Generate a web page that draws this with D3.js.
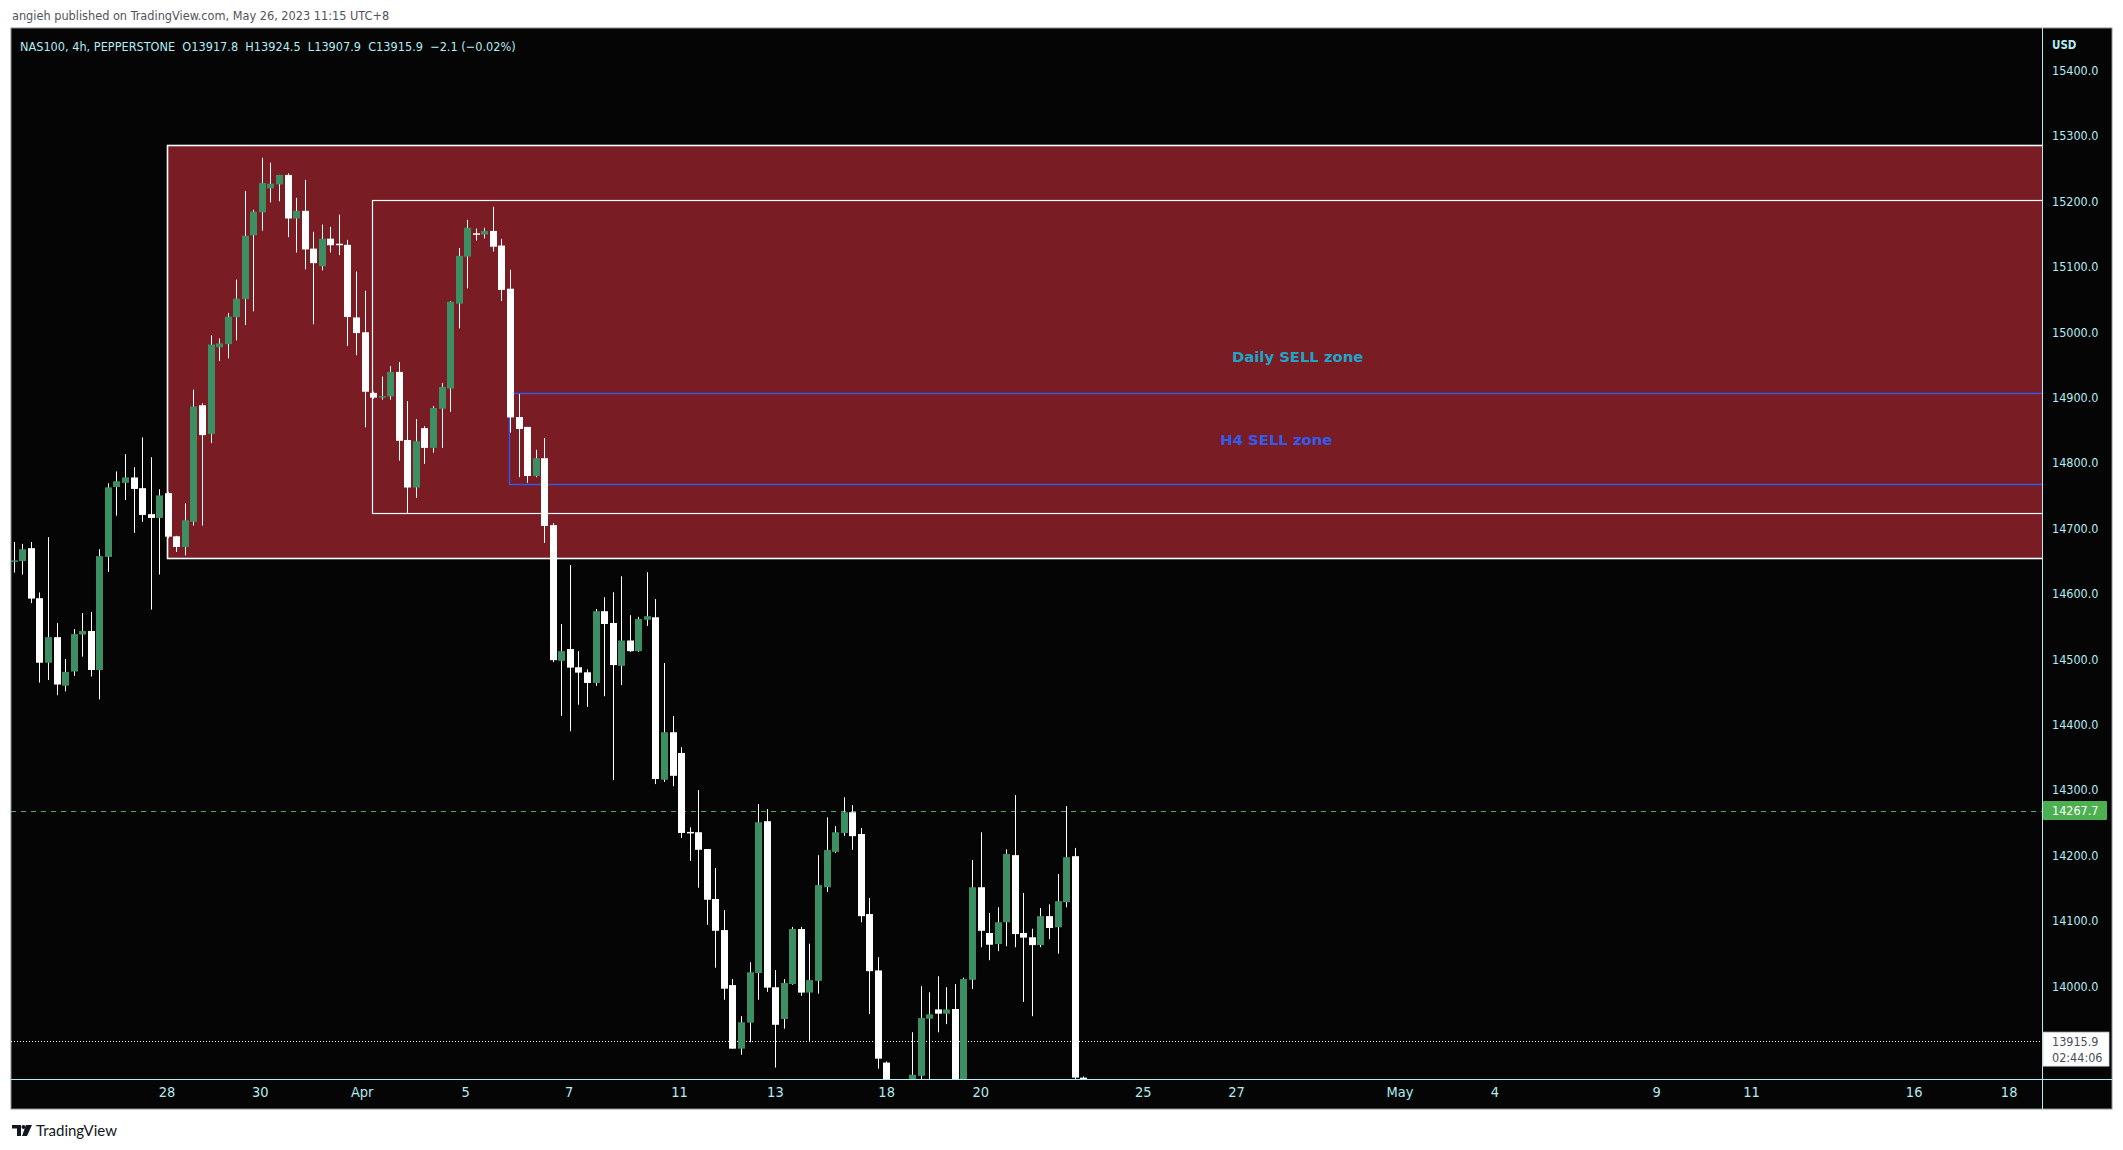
<!DOCTYPE html>
<html><head><meta charset="utf-8">
<script src="https://cdn.jsdelivr.net/npm/d3@7"></script>
<style>
html,body{margin:0;padding:0;background:#ffffff;}
svg{display:block;}
</style></head>
<body>
<svg id="chart" width="2123" height="1150"></svg>
<script>
// ---------------- DATA ----------------
// 4h candles, NAS100 (index = bar number)
const opens = [14648.7,14649.9,14669.7,14593.2,14494.5,14533.6,14459.5,14481.1,14537.7,14543.0,
14483.4,14656.3,14763.2,14769.6,14777.8,14761.4,14721.7,14715.9,14753.8,14687.8,
14671.5,14710.0,14888.2,14844.4,14977.0,14981.6,15023.1,15050.6,15148.1,15183.1,
15219.9,15225.8,15240.4,15173.8,15185.5,15127.7,15100.8,15142.9,15135.2,15133.5,
15022.5,14999.8,14907.1,14899.9,14901.7,14939.2,14835.1,14762.4,14853.2,14823.0,
14882.9,14913.8,15043.4,15115.4,15151.1,15149.3,15154.8,15132.4,15066.4,14870.2,
14855.1,14780.0,14807.2,14704.9,14497.4,14515.4,14487.6,14479.9,14463.6,14573.3,
14555.3,14489.8,14528.5,14512.2,14560.2,14564.0,14315.6,14388.2,14356.5,14235.8,
14235.3,14209.6,14133.2,14085.7,14001.6,13904.4,13944.2,14020.1,14252.2,13998.3,
13949.7,14003.2,14087.3,13990.1,14008.1,14151.2,14205.3,14234.2,14265.9,14232.6,
14110.2,14024.0,13883.1,13820.0,13790.0,13805.0,13862.8,13950.2,13964.4,13957.9,
13965.0,13835.0,14009.7,14151.2,14081.3,14064.4,14097.7,14200.3,14081.3,14074.7,
14062.7,14107.0,14090.0,14128.3,14198.7,13860.1];
const highs = [14679.1,14676.2,14679.1,14602.0,14686.7,14555.2,14500.3,14545.9,14570.4,14572.2,
14668.0,14769.0,14787.1,14813.4,14793.5,14839.1,14808.7,14759.7,14756.0,14688.5,
14738.1,14912.1,14891.1,14995.1,14990.4,15029.5,15080.3,15215.9,15187.2,15266.7,
15259.1,15240.4,15242.7,15205.3,15232.8,15153.4,15164.5,15161.0,15179.6,15141.1,
15092.6,15063.3,14909.0,14932.0,14948.3,14954.4,14894.4,14867.2,14856.3,14887.1,
14922.3,15047.6,15128.7,15171.7,15158.4,15159.6,15191.7,15142.7,15095.4,14905.3,
14855.1,14820.0,14838.1,14707.9,14553.7,14643.8,14512.2,14484.3,14576.6,14594.6,
14602.3,14626.8,14567.3,14564.6,14632.9,14591.9,14494.1,14412.8,14365.3,14242.9,
14299.7,14209.6,14180.7,14116.2,14010.8,13954.1,14036.5,14278.4,14270.8,14024.5,
14010.8,14090.6,14090.6,14064.9,14200.3,14258.2,14244.6,14288.8,14276.8,14241.8,
14134.8,14044.2,13885.0,13845.0,13835.0,13929.5,14000.0,13990.6,14015.2,13998.3,
14003.2,14013.0,14192.7,14235.3,14111.9,14120.6,14209.1,14292.1,14142.5,14087.8,
14119.5,14125.0,14171.4,14275.2,14211.3,13862.0];
const lows = [14632.3,14629.4,14585.6,14464.1,14468.2,14444.9,14450.7,14474.6,14503.8,14473.5,
14438.4,14633.5,14719.4,14743.3,14693.1,14710.0,14575.7,14629.4,14685.0,14663.9,
14658.6,14704.2,14704.2,14830.4,14955.9,14960.0,14987.5,15010.8,15031.9,15155.1,
15198.3,15200.1,15145.2,15121.8,15096.1,15012.0,15094.4,15121.8,15117.7,14978.7,
14964.7,14854.5,14898.0,14896.8,14896.8,14803.6,14723.0,14746.7,14798.7,14815.7,
14823.0,14878.1,15005.8,15067.0,15140.2,15143.3,15123.3,15047.6,14846.6,14778.2,
14769.7,14778.2,14677.6,14495.4,14413.3,14389.8,14430.2,14427.0,14459.2,14443.4,
14315.0,14460.3,14511.1,14511.1,14550.9,14309.0,14312.3,14305.7,14226.5,14191.6,
14150.6,14093.8,14028.3,13979.2,13904.4,13895.1,13914.2,13979.2,13991.2,13875.4,
13934.9,14002.1,13985.2,13916.4,13988.5,14144.1,14203.6,14229.8,14208.5,14097.7,
13957.3,13873.8,13800.0,13770.0,13760.0,13790.0,13845.0,13850.0,13929.5,13942.0,
13815.0,13820.0,13995.5,14059.5,14039.8,14053.4,14061.1,14059.5,13975.9,13954.1,
14059.5,14072.0,14049.6,14120.6,13845.0,13790.0];
const closes = [14651.0,14668.0,14592.6,14494.5,14533.6,14461.2,14480.5,14538.3,14543.0,14483.4,
14657.5,14762.6,14772.0,14777.8,14760.3,14720.5,14715.9,14750.3,14687.3,14671.5,
14712.4,14886.4,14842.6,14981.1,14982.8,15023.7,15051.1,15147.5,15184.3,15228.1,
15227.0,15240.4,15173.8,15185.5,15126.5,15105.5,15142.9,15132.9,15133.5,15023.1,
14998.6,14908.9,14899.9,14902.3,14939.2,14833.9,14762.4,14833.3,14823.0,14884.1,
14916.2,15046.4,15116.6,15159.6,15149.9,15154.8,15130.6,15064.6,14869.6,14852.0,
14780.0,14807.2,14703.7,14498.4,14512.2,14487.0,14479.4,14463.6,14573.3,14553.7,
14490.9,14528.5,14512.2,14561.3,14565.7,14316.7,14388.2,14321.6,14234.2,14234.7,
14208.5,14132.1,14084.6,13996.1,13904.4,13944.8,14021.2,14250.6,13997.7,13940.9,
14004.8,14087.3,13990.1,14009.2,14154.5,14208.0,14235.3,14265.9,14229.3,14107.0,
14022.9,13889.1,13820.0,13790.0,13805.0,13864.5,13951.3,13956.8,13957.9,13964.4,
13830.0,14010.8,14151.2,14084.6,14063.3,14097.7,14202.0,14079.6,14074.2,14062.7,
14107.0,14088.9,14129.9,14197.1,13860.1,13820.0];

const priceTicks = [14000,14100,14200,14300,14400,14500,14600,14700,14800,14900,15000,15100,15200,15300,15400];
const dateTickIndex = [17.8,28.7,40.6,52.7,64.8,77.7,88.9,101.9,112.9,131.9,142.8,161.9,173.0,191.9,203.0,222.0,233.1];
const dateTickLabels = ["28","30","Apr","5","7","11","13","18","20","25","27","May","4","9","11","16","18"];

// zones drawn by the author: [start bar index, top price, bottom price]
const zoneStart  = [17.85, 41.85, 57.85];
const zoneTop    = [15286, 15202, 14907];
const zoneBottom = [14654, 14723, 14768];
const zoneKind   = ["daily","daily-inner","h4"];

const zoneLabels      = ["Daily SELL zone","H4 SELL zone"];
const zoneLabelIndex  = [150.0, 147.5];
const zoneLabelPrice  = [14962, 14836];

const levelPrice = 14267.7;   // horizontal level (green dashed)
const lastPrice  = 13915.9;   // current price (dotted)
const countdown  = "02:44:06";

const headerLine = "NAS100, 4h, PEPPERSTONE  O13917.8  H13924.5  L13907.9  C13915.9  \u22122.1 (\u22120.02%)";
const publishLine = "angieh published on TradingView.com, May 26, 2023 11:15 UTC+8";

// ---------------- LAYOUT ----------------
const PL = 11, PR = 2042, PT = 30, PB = 1079, AXR = 2112, BOT = 1109;
const svg = d3.select("#chart");
const x = d3.scaleLinear().domain([-0.386, 237.0]).range([PL, PR]);
const y = d3.scaleLinear().domain([13858, 15462]).range([PB, PT]);

const narrow = "'Liberation Sans Narrow','DejaVu Sans Condensed',sans-serif";
const axisFont = "'DejaVu Sans Condensed','DejaVu Sans',sans-serif";
const axisCol = "#b2ebf2";

// page text
svg.append("text").attr("x", 12).attr("y", 20).attr("font-family", narrow)
  .attr("font-size", 12.6).attr("fill", "#50535e").text(publishLine);

// black chart background
svg.append("rect").attr("x", PL).attr("y", PT - 2).attr("width", AXR - PL).attr("height", BOT - PT + 2)
  .attr("fill", "#050505").attr("stroke", "#8a8d94").attr("stroke-width", 1);

const defs = svg.append("defs");
defs.append("clipPath").attr("id", "plot").append("rect")
  .attr("x", PL).attr("y", PT).attr("width", PR - PL).attr("height", PB - PT);

const plot = svg.append("g").attr("clip-path", "url(#plot)");

// zones
const zones = zoneStart.map((s, i) => ({s, top: zoneTop[i], bot: zoneBottom[i], kind: zoneKind[i]}));
plot.selectAll("rect.zone").data(zones).join("rect").attr("class", "zone")
  .attr("x", d => Math.round(x(d.s)) + 0.5)
  .attr("y", d => Math.round(y(d.top)) + 0.5)
  .attr("width", d => PR + 20 - Math.round(x(d.s)))
  .attr("height", d => Math.round(y(d.bot)) - Math.round(y(d.top)))
  .attr("fill", d => d.kind === "daily" ? "#7a1c24" : "none")
  .attr("stroke", d => d.kind === "h4" ? "#2f5cf0" : "#ffffff")
  .attr("stroke-width", d => d.kind === "daily" ? 1.6 : (d.kind === "h4" ? 1.4 : 1.2));

// level lines
plot.append("line").attr("x1", PL).attr("x2", PR)
  .attr("y1", Math.round(y(levelPrice)) + 0.5).attr("y2", Math.round(y(levelPrice)) + 0.5)
  .attr("stroke", "#4caf50").attr("stroke-width", 1).attr("stroke-dasharray", "5,5");
plot.append("line").attr("x1", PL).attr("x2", PR)
  .attr("y1", Math.round(y(lastPrice)) + 0.5).attr("y2", Math.round(y(lastPrice)) + 0.5)
  .attr("stroke", "#ffffff").attr("stroke-width", 1).attr("stroke-dasharray", "1,2");

// candles
const bars = opens.map((o, i) => ({i, o, h: highs[i], l: lows[i], c: closes[i]}));
const BW = 7;
const cg = plot.append("g");
cg.selectAll("rect.wick").data(bars).join("rect").attr("class", "wick")
  .attr("x", d => Math.round(x(d.i) - BW / 2) + 3)
  .attr("y", d => y(d.h))
  .attr("width", 1)
  .attr("height", d => Math.max(1, y(d.l) - y(d.h)))
  .attr("fill", "#ffffff");
cg.selectAll("rect.body").data(bars).join("rect").attr("class", "body")
  .attr("x", d => Math.round(x(d.i) - BW / 2))
  .attr("y", d => y(Math.max(d.o, d.c)))
  .attr("width", BW)
  .attr("height", d => Math.max(1.5, Math.abs(y(d.o) - y(d.c))))
  .attr("fill", d => d.c >= d.o ? "#3d8f63" : "#ffffff");

// zone labels
const lbl = zoneLabels.map((t, i) => ({t, i: zoneLabelIndex[i], p: zoneLabelPrice[i]}));
plot.selectAll("text.zl").data(lbl).join("text").attr("class", "zl")
  .attr("x", d => x(d.i)).attr("y", d => y(d.p)).attr("dy", "0.35em")
  .attr("text-anchor", "middle").attr("font-family", "'DejaVu Sans',sans-serif")
  .attr("font-size", 14.8).attr("font-weight", "bold")
  .attr("fill", (d, k) => k === 0 ? "#1ba6c8" : "#2f5cf0").text(d => d.t);

// header
svg.append("text").attr("x", 20).attr("y", 51).attr("font-family", narrow)
  .attr("font-size", 12.6).attr("fill", axisCol).attr("xml:space", "preserve")
  .style("white-space", "pre").text(headerLine);

// axis frame lines
svg.append("line").attr("x1", PR + 0.5).attr("x2", PR + 0.5).attr("y1", PT - 2).attr("y2", BOT)
  .attr("stroke", axisCol).attr("stroke-width", 1);
svg.append("line").attr("x1", PL).attr("x2", AXR).attr("y1", PB + 0.5).attr("y2", PB + 0.5)
  .attr("stroke", axisCol).attr("stroke-width", 1);

// price axis
const yAxis = d3.axisRight(y).tickValues(priceTicks).tickFormat(d => d.toFixed(1)).tickSize(0).tickPadding(10);
const yg = svg.append("g").attr("transform", `translate(${PR},0)`).call(yAxis);
yg.select(".domain").remove();
yg.selectAll("text").attr("font-family", axisFont).attr("font-size", 12.5).attr("fill", axisCol);

svg.append("text").attr("x", 2052).attr("y", 49).attr("font-family", axisFont)
  .attr("font-size", 11.5).attr("font-weight", "bold").attr("fill", axisCol).text("USD");

// level label (green)
const ly = y(levelPrice);
svg.append("rect").attr("x", PR + 1).attr("y", ly - 10).attr("width", 64).attr("height", 19)
  .attr("fill", "#4caf50").attr("rx", 1);
svg.append("text").attr("x", 2052).attr("y", ly).attr("dy", "0.35em").attr("font-family", axisFont)
  .attr("font-size", 12.5).attr("fill", "#ffffff").text(levelPrice.toFixed(1));

// last price label
const cy = y(lastPrice);
svg.append("rect").attr("x", PR + 1).attr("y", cy - 9).attr("width", 66).attr("height", 34)
  .attr("fill", "#ffffff").attr("stroke", "#c9ccd3").attr("stroke-width", 0.8);
svg.append("text").attr("x", 2052).attr("y", cy).attr("dy", "0.35em").attr("font-family", axisFont)
  .attr("font-size", 12.5).attr("fill", "#4a4e59").text(lastPrice.toFixed(1));
svg.append("text").attr("x", 2052).attr("y", cy + 16).attr("dy", "0.35em").attr("font-family", axisFont)
  .attr("font-size", 12.5).attr("fill", "#4a4e59").text(countdown);

// time axis
const xAxis = d3.axisBottom(x).tickValues(dateTickIndex).tickFormat((d, k) => dateTickLabels[k]).tickSize(0).tickPadding(8);
const xg = svg.append("g").attr("transform", `translate(0,${PB})`).call(xAxis);
xg.select(".domain").remove();
xg.selectAll("text").attr("font-family", narrow).attr("font-size", 14.5).attr("fill", axisCol);

// TradingView footer logo
const logo = svg.append("g").attr("transform", "translate(12,1125)");
logo.append("path").attr("d", "M0,0 H9 V11 H5 V3.5 H0 Z").attr("fill", "#131722");
logo.append("circle").attr("cx", 11.5).attr("cy", 2).attr("r", 2).attr("fill", "#131722");
logo.append("path").attr("d", "M14,0 H20 L15,11 H10 Z").attr("fill", "#131722");
svg.append("text").attr("x", 36).attr("y", 1136).attr("font-family", "Lato,'Open Sans',sans-serif")
  .attr("font-size", 15).attr("fill", "#131722").text("TradingView");
</script>
</body></html>
